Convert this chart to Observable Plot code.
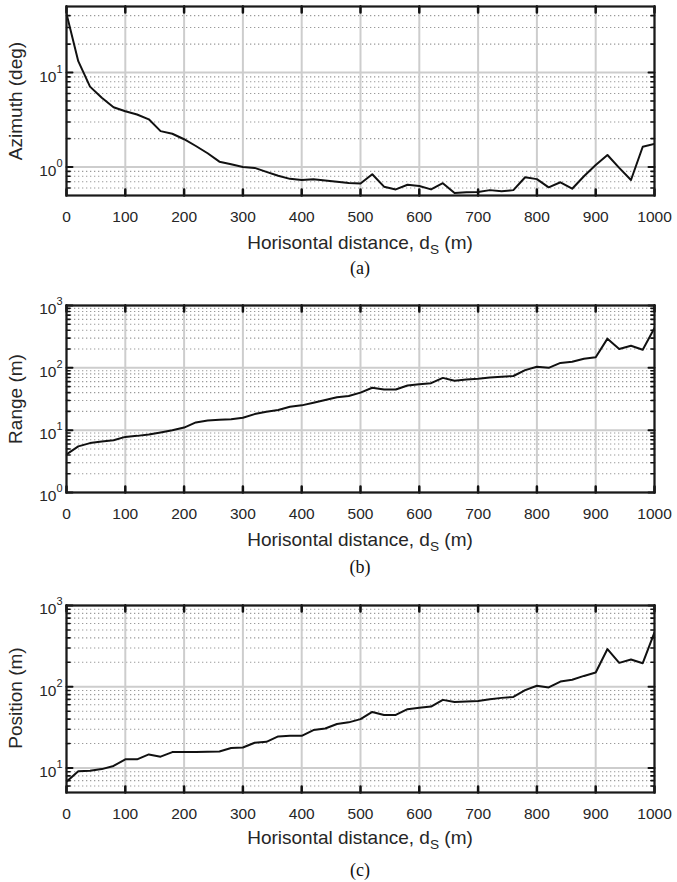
<!DOCTYPE html>
<html><head><meta charset="utf-8">
<script src="https://cdn.jsdelivr.net/npm/d3@7"></script>
<script src="https://cdn.jsdelivr.net/npm/@observablehq/plot@0.6"></script>
<style>
body{margin:0;background:#fff;}
#wrap{position:relative;width:677px;height:882px;overflow:hidden;font-family:Arial,"Liberation Sans",Helvetica,sans-serif;color:#262626;}
.panel{position:absolute;left:0;}
.xlab{position:absolute;left:0;width:720px;text-align:center;font-size:19px;line-height:22px;white-space:nowrap;}
.xlab sub{font-size:0.72em;vertical-align:-0.35em;line-height:0;}
.cap{position:absolute;left:0;width:720px;text-align:center;font-family:"Liberation Serif","Times New Roman",serif;font-size:18px;line-height:22px;color:#111;}
.ylab{position:absolute;font-size:19px;white-space:nowrap;transform:translate(-50%,-50%) rotate(-90deg);}
</style>
</head><body>
<div id="wrap"></div>
<script>
// ---- data ----
const distance = [0,20,40,60,80,100,120,140,160,180,200,220,240,260,280,300,320,340,360,380,400,420,440,460,480,500,520,540,560,580,600,620,640,660,680,700,720,740,760,780,800,820,840,860,880,900,920,940,960,980,1000];
const azimuth = [42,13.2,7.1,5.4,4.3,3.9,3.6,3.2,2.4,2.25,1.97,1.67,1.4,1.14,1.07,1.0,0.98,0.89,0.81,0.75,0.73,0.745,0.72,0.70,0.68,0.67,0.84,0.62,0.58,0.65,0.63,0.58,0.675,0.53,0.54,0.546,0.57,0.555,0.57,0.78,0.745,0.61,0.69,0.59,0.80,1.05,1.34,0.98,0.73,1.64,1.76];
const range = [4.1,5.5,6.2,6.6,6.9,7.8,8.1,8.5,9.2,10,11,13.3,14.3,14.7,15,15.8,18.1,19.7,21,23.8,25,27.6,30.5,33.7,35.3,40,48,45,45,52,54.6,56.7,69,62,65,67,70,72,74,92,104,100,120,125,140,148,294,200,226,195,436];
const position = [6.8,9.1,9.25,9.7,10.6,12.8,12.8,14.7,13.8,15.7,15.7,15.7,15.9,16.0,17.6,17.9,20.5,21,24.5,24.9,24.9,29.3,30.7,34.8,36.5,40,49,45,45,53,55,57,69,65,66,67,70,73,75,91,103,98,116,122,136,150,291,197,217,195,466];
const xTicks = [0,100,200,300,400,500,600,700,800,900,1000];
const yLabels = ["Azimuth (deg)","Range (m)","Position (m)"];
const xLabel = "Horisontal distance, d";
const xLabelSub = "S";
const xLabelTail = " (m)";
const captions = ["(a)","(b)","(c)"];

const panels = [
  {values: azimuth, domain:[0.5,50], majors:[1,10], top:0, marginTop:6, plotH:189, ylabel:yLabels[0], ylabY:101, xlabTop:232, capTop:257, cap:captions[0]},
  {values: range, domain:[1,1000], majors:[1,10,100,1000], top:290, marginTop:15, plotH:187, ylabel:yLabels[1], ylabY:399, xlabTop:529, capTop:556, cap:captions[1]},
  {values: position, domain:[5,1000], majors:[10,100,1000], top:590, marginTop:15, plotH:187, ylabel:yLabels[2], ylabY:698, xlabTop:827, capTop:859, cap:captions[2]}
];

function minorsFor(domain){
  const out=[];
  for(let e=-2;e<=4;e++){for(let m=2;m<=9;m++){const v=m*Math.pow(10,e); if(v>domain[0]*1.0001&&v<domain[1]*0.9999) out.push(v);}}
  return out;
}

// inward tick marks drawn as thin spikes
function ticks(values, side, len, sw){
  const rot = {bottom:0, top:180, left:90, right:-90}[side];
  const o = {length:len, rotate:rot, anchor:"start", shape:"spike", r:0.01, stroke:"#111", strokeWidth:sw, fill:"#111"};
  if(side==="bottom"||side==="top"){ o.x = d=>d; o.frameAnchor = side; }
  else { o.y = d=>d; o.frameAnchor = side; }
  return Plot.vector(values, o);
}

const wrap = document.getElementById("wrap");
panels.forEach(p=>{
  const data = distance.map((d,i)=>({d, v:p.values[i]}));
  const minors = minorsFor(p.domain);
  const majorsIn = p.majors.filter(v=>v>=p.domain[0]&&v<=p.domain[1]);
  const marginBottom = 35;
  const height = p.marginTop + p.plotH + marginBottom;
  const chart = Plot.plot({
    width:677, height, marginLeft:66, marginRight:23, marginTop:p.marginTop, marginBottom,
    style:{fontFamily:"Arial, 'Liberation Sans', Helvetica, sans-serif", fontSize:"15.5px", color:"#262626", background:"transparent", overflow:"visible"},
    x:{domain:[0,1000]},
    y:{type:"log", domain:p.domain},
    marks:[
      Plot.ruleY(minors, {stroke:"#9a9a9a", strokeDasharray:"1.3,2.7", strokeWidth:1.1}),
      Plot.ruleY(majorsIn, {stroke:"#cdcdcd", strokeWidth:2}),
      Plot.ruleX(xTicks, {stroke:"#cdcdcd", strokeWidth:2}),
      Plot.line(data, {x:"d", y:"v", stroke:"#111", strokeWidth:2, clip:true}),
      Plot.axisX({anchor:"bottom", ticks:xTicks, tickSize:0, tickPadding:15, label:null, tickFormat:d=>String(d)}),
      Plot.axisY({anchor:"left", ticks:majorsIn, tickSize:0, tickPadding:4, label:null, tickFormat:d=>"10^"+Math.round(Math.log10(d))}),
      ticks(xTicks, "bottom", 6, 2.5),
      ticks(xTicks, "top", 6, 2.5),
      ticks(majorsIn, "left", 6, 2),
      ticks(minors, "left", 3.5, 1.6),
      ticks(majorsIn, "right", 6, 2),
      ticks(minors, "right", 3.5, 1.6),
      Plot.frame({stroke:"#1a1a1a", strokeWidth:2.2})
    ]
  });
  // superscript exponents on y tick labels
  d3.select(chart).selectAll('g[aria-label="y-axis tick label"] text').each(function(){
    const t = this.textContent;
    if(!t.includes("^")) return;
    const [base, ex] = t.split("^");
    const sel = d3.select(this);
    sel.text(null);
    sel.append("tspan").attr("dy","4").text(base);
    sel.append("tspan").attr("dy","-9").attr("font-size","11px").text(ex);
  });
  const div = document.createElement("div");
  div.className="panel"; div.style.top=p.top+"px";
  div.appendChild(chart);
  wrap.appendChild(div);

  const yl = document.createElement("div");
  yl.className="ylab"; yl.style.left="16px"; yl.style.top=p.ylabY+"px"; yl.textContent=p.ylabel;
  wrap.appendChild(yl);

  const xl = document.createElement("div");
  xl.className="xlab"; xl.style.top=p.xlabTop+"px";
  xl.append(xLabel);
  const sub=document.createElement("sub"); sub.textContent=xLabelSub; xl.appendChild(sub);
  xl.append(xLabelTail);
  wrap.appendChild(xl);

  const cp = document.createElement("div");
  cp.className="cap"; cp.style.top=p.capTop+"px"; cp.textContent=p.cap;
  wrap.appendChild(cp);
});
</script>
</body></html>
